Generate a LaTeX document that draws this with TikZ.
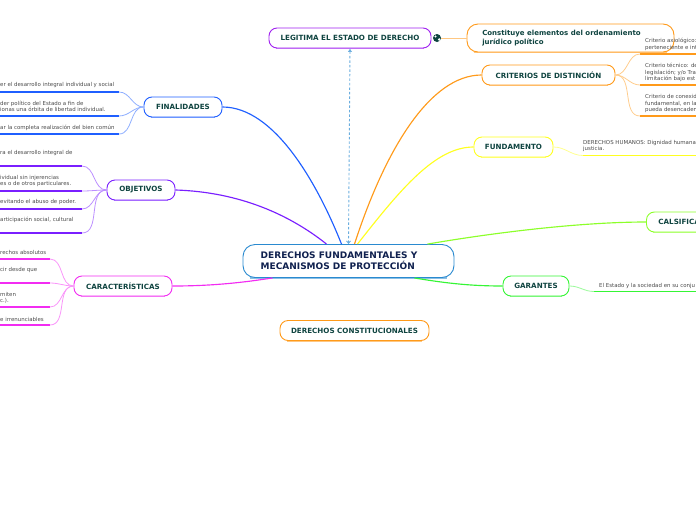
\documentclass[tikz,border=0pt]{standalone}
\usepackage{fontspec}
\setmainfont{DejaVu Sans}
\usetikzlibrary{arrows.meta}
\definecolor{nodetext}{HTML}{0F4440}
\definecolor{leaftext}{HTML}{4A4A4A}
\definecolor{rootblue}{HTML}{2A8AD0}
\definecolor{rootnavy}{HTML}{10214F}
\definecolor{finblue}{HTML}{1F5FFF}
\definecolor{objpurple}{HTML}{7A1FFF}
\definecolor{carmagenta}{HTML}{F22CF2}
\definecolor{legpurple}{HTML}{A020F0}
\definecolor{critorange}{HTML}{FF9A1A}
\definecolor{fundyellow}{HTML}{FFFF20}
\definecolor{calgreen}{HTML}{8CFF2A}
\definecolor{garagreen}{HTML}{35F535}
\tikzset{
  topic/.style={rounded corners=8pt, draw=#1, line width=0.9pt, fill=white, inner sep=0pt,
    minimum height=20pt, text=nodetext, font=\fontsize{7.15}{9}\selectfont\bfseries,
    append after command={
      \pgfextra{\draw[#1!55, line width=1.5pt]
        ([xshift=7pt]\tikzlastnode.south west) -- ([xshift=-7pt]\tikzlastnode.south east);}}},
  leaf/.style={anchor=west, inner sep=0pt, align=left, text=leaftext,
    font=\fontsize{5.45}{6.5}\selectfont},
  bar/.style={#1, line width=1.6pt},
  twig/.style={#1!50, line width=0.8pt},
  branch/.style={#1, line width=1.15pt}
}
\begin{document}
\begin{tikzpicture}[x=1pt,y=-1pt]
    \clip (0,0) rectangle (696,520);

    % Central topic
    \node[topic=rootblue, minimum width=211pt, minimum height=33pt, rounded corners=12pt, text=rootnavy,
      font=\fontsize{9}{11}\selectfont\bfseries, align=left] (root) at (348.5,261)
      {\hspace*{-19pt}DERECHOS FUNDAMENTALES Y\\\hspace*{-19pt}MECANISMOS DE PROTECCIÓN};

    % Main topics
    \node[topic=legpurple, minimum width=162pt] (legitima) at (350,38) {LEGITIMA EL ESTADO DE DERECHO};
    \node[topic=critorange, minimum width=207pt, minimum height=28pt, rounded corners=11pt, align=left,
      font=\fontsize{7}{9}\selectfont\bfseries] (constituye) at (570.5,38)
      {\hspace*{-18pt}Constituye elementos del ordenamiento\\\hspace*{-18pt}jurídico político};
    \node[topic=critorange, minimum width=133pt] (criterios) at (548.5,75) {CRITERIOS DE DISTINCIÓN};
    \node[topic=fundyellow, minimum width=79pt] (fundamento) at (513.5,147) {FUNDAMENTO};
    \node[topic=calgreen, minimum width=100pt, anchor=west, text width=100pt, align=left] (calsifica) at (646,222) {\hspace*{12pt}CALSIFICA};
    \node[topic=garagreen, minimum width=66pt] (garantes) at (536,286) {GARANTES};
    \node[topic=critorange, minimum width=149pt] (constitucionales) at (354.5,330.5) {DERECHOS CONSTITUCIONALES};
    \node[topic=finblue, minimum width=78pt] (finalidades) at (183,107) {FINALIDADES};
    \node[topic=objpurple, minimum width=68pt] (objetivos) at (141,190) {OBJETIVOS};
    \node[topic=carmagenta, minimum width=98pt] (caracteristicas) at (123,286) {CARACTERÍSTICAS};

    % Branches from the central topic
    \draw[branch=finblue] (finalidades.east) .. controls (275,107) and (318,185) .. ([xshift=-7pt]root.north);
    \draw[branch=objpurple] (objetivos.east) .. controls (240,192) and (290,215) .. ([xshift=-22pt]root.north);
    \draw[branch=carmagenta] (caracteristicas.east) .. controls (210,286) and (240,283) .. ([xshift=-76pt]root.south);
    \draw[branch=critorange] ([xshift=6pt]root.north) .. controls (385,150) and (430,75) .. (criterios.west);
    \draw[branch=fundyellow] ([xshift=9pt]root.north) .. controls (400,190) and (435,147) .. (fundamento.west);
    \draw[branch=calgreen] ([xshift=79pt]root.north) .. controls (510,230) and (590,222) .. (calsifica.west);
    \draw[branch=garagreen] ([xshift=66pt]root.south) .. controls (450,284) and (475,286) .. (garantes.west);

    % Link between root and legitima
    \draw[rootblue!70, dash pattern=on 2.5pt off 2pt, line width=0.9pt, {Straight Barb[length=2.5pt,width=4pt]}-{Latex[length=3.5pt,width=4.5pt]}] (root.north) -- (legitima.south);

    % Globe icon and its link
    \node[circle, fill=nodetext, inner sep=0pt, minimum size=8pt,
      path picture={\fill[white] (-1.5pt,1.5pt) circle (1.1pt); \fill[white] (2.2pt,-1.5pt) circle (1.3pt);}] (globe) at (437,38) {};
    \draw[critorange!55, line width=0.9pt] (globe.east) -- (constituye.west);

    % Finalidades leaves
    \foreach \i/\y in {1/92,2/116,3/134}{
      \coordinate (finbar\i) at (119,\y);
      \draw[bar=finblue] (0,\y) -- (finbar\i);
      \draw[twig=finblue] (finalidades.west) to[out=180,in=0] (finbar\i);
    }
    \node[leaf] (fin1) at (0,85) {er el desarrollo integral individual y social};
    \node[leaf] (fin2) at (0,106.5) {der político del Estado a fin de\\ionas una órbita de libertad individual.};
    \node[leaf] (fin3) at (0,128) {ar la completa realización del bien común};

    % Objetivos leaves
    \foreach \i/\y in {1/166,2/191,3/209,4/233}{
      \coordinate (objbar\i) at (82,\y);
      \draw[bar=objpurple] (0,\y) -- (objbar\i);
      \draw[twig=objpurple] (objetivos.west) to[out=180,in=0] (objbar\i);
    }
    \node[leaf] (obj1) at (0,153) {ra el desarrollo integral de};
    \node[leaf] (obj2) at (0,181) {ividual sin injerencias\\es o de otros particulares.};
    \node[leaf] (obj3) at (0,202) {evitando el abuso de poder.};
    \node[leaf] (obj4) at (0,220) {articipación social, cultural};

    % Caracteristicas leaves
    \foreach \i/\y in {1/259,2/283,3/307,4/325}{
      \coordinate (carbar\i) at (50,\y);
      \draw[bar=carmagenta] (0,\y) -- (carbar\i);
      \draw[twig=carmagenta] (caracteristicas.west) to[out=180,in=0] (carbar\i);
    }
    \node[leaf] (car1) at (0,252) {rechos absolutos};
    \node[leaf] (car2) at (0,270) {cir desde que};
    \node[leaf] (car3) at (0,298) {miten\\c.).};
    \node[leaf] (car4) at (0,319) {e irrenunciables};

    % Criterios leaves
    \foreach \i/\y in {1/54,2/85,3/116}{
      \coordinate (critbar\i) at (640,\y);
      \draw[bar=critorange] (critbar\i) -- (696,\y);
      \draw[twig=critorange] (criterios.east) to[out=0,in=180] (critbar\i);
    }
    \node[leaf] (crit1) at (645,44.5) {Criterio axiológico:\\perteneciente e int};
    \node[leaf] (crit2) at (645,72.5) {Criterio técnico: de\\legislación; y/o Tra\\limitación bajo est};
    \node[leaf] (crit3) at (645,103.5) {Criterio de conexid\\fundamental, en la\\pueda desencaden};

    % Fundamento leaf
    \coordinate (fundbar) at (583,155.5);
    \draw[bar=fundyellow] (fundbar) -- (696,155.5);
    \draw[twig=fundyellow] (fundamento.east) to[out=0,in=180] (fundbar);
    \node[leaf] (fund1) at (583,146) {DERECHOS HUMANOS: Dignidad humana\\justicia.};

    % Garantes leaf
    \coordinate (garbar) at (594,291.5);
    \draw[bar=garagreen] (garbar) -- (696,291.5);
    \draw[twig=garagreen] (garantes.east) to[out=0,in=180] (garbar);
    \node[leaf] (gar1) at (599,286) {El Estado y la sociedad en su conju};
\end{tikzpicture}
\end{document}
